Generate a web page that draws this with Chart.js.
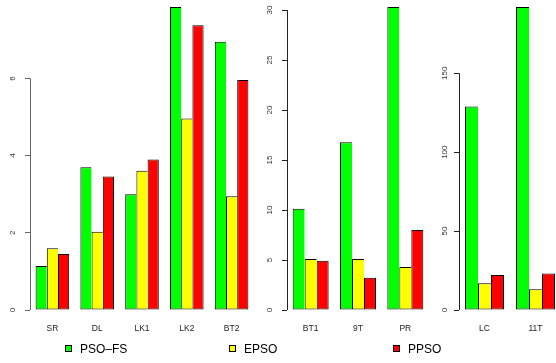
<!DOCTYPE html>
<html>
<head>
<meta charset="utf-8">
<script src="https://cdn.jsdelivr.net/npm/chart.js@4/dist/chart.umd.min.js"></script>
<style>
  html, body { margin: 0; padding: 0; background: #fff; overflow: hidden; }
  #wrap { position: relative; width: 556px; height: 363px; overflow: hidden; }
  #wrap canvas { position: absolute; left: 0; top: 0; }
  .leg { position: absolute; top: 342px; line-height: 14px; font: 12px "Liberation Sans", Arial, sans-serif; color: #000; }
  .box { position: absolute; top: 345px; width: 5px; height: 5px; border: 1px solid #000; }
</style>
</head>
<body>
<div id="wrap">
  <canvas id="left" width="580" height="363"></canvas>
  <canvas id="mid" width="580" height="363"></canvas>
  <canvas id="right" width="580" height="363"></canvas>

  <div class="box" style="left:65px;background:#00ff00"></div>
  <div class="leg" style="left:80px">PSO–FS</div>
  <div class="box" style="left:229px;background:#ffff00"></div>
  <div class="leg" style="left:244px">EPSO</div>
  <div class="box" style="left:393px;background:#ff0000"></div>
  <div class="leg" style="left:408px">PPSO</div>
</div>

<script>
/* data */

const seriesNames = ['PSO–FS', 'EPSO', 'PPSO']
const seriesColors = ['#00ff00', '#ffff00', '#ff0000']

const leftCats = ['SR', 'DL', 'LK1', 'LK2', 'BT2']
const leftPsoFs = [1.14, 3.70, 3.00, 7.85, 6.95]
const leftEpso = [1.60, 2.03, 3.61, 4.96, 2.95]
const leftPpso = [1.45, 3.46, 3.90, 7.38, 5.96]
const leftTicks = [0, 2, 4, 6]

const midCats = ['BT1', '9T', 'PR']
const midPsoFs = [10.13, 16.77, 30.3]
const midEpso = [5.10, 5.10, 4.30]
const midPpso = [4.93, 3.23, 8.00]
const midTicks = [0, 5, 10, 15, 20, 25, 30]

const rightCats = ['LC', '11T']
const rightPsoFs = [128.9, 192]
const rightEpso = [16.9, 13.1]
const rightPpso = [22.2, 23.2]
const rightTicks = [0, 50, 100, 150]

/* R style axis line: only from first to last tick */
const axisLine = {
  id: 'axisLine',
  afterDraw(chart, args, opts) {
    const y = chart.scales.y
    const t = y.ticks
    const ctx = chart.ctx
    const x = Math.round(chart.chartArea.left) + 0.5
    ctx.save()
    ctx.strokeStyle = opts.color
    ctx.lineWidth = 1
    ctx.beginPath()
    ctx.moveTo(x, y.getPixelForValue(t[0].value))
    ctx.lineTo(x, y.getPixelForValue(t[t.length - 1].value))
    ctx.stroke()
    ctx.restore()
  }
}

const tickFont = { family: "'Liberation Sans', Arial, sans-serif", size: 8.5 }

// neighbouring bars share one edge line, like R's rect()
const edges = [
  { top: 1, left: 1, bottom: 1, right: 0 },
  { top: 1, left: 1, bottom: 1, right: 0 },
  { top: 1, left: 1, bottom: 1, right: 1 }
]

function makePanel(id, cats, a, b, c, ticks, box) {
  const ctx = document.getElementById(id).getContext('2d')
  const top = Math.max(...a, ...b, ...c)
  return new Chart(ctx, {
    type: 'bar',
    data: {
      labels: cats,
      datasets: [a, b, c].map((d, i) => ({
        label: seriesNames[i],
        data: d,
        backgroundColor: seriesColors[i],
        borderColor: '#000',
        borderWidth: edges[i],
        borderSkipped: false,
        inflateAmount: 0,
        categoryPercentage: box.cat,
        barPercentage: 1
      }))
    },
    options: {
      responsive: false,
      animation: false,
      events: [],
      layout: { padding: { left: box.left - 30, right: 580 - box.right, top: 7, bottom: 363 - 310 - 30 } },
      plugins: {
        legend: { display: false },
        tooltip: { enabled: false },
        axisLine: { color: box.axis }
      },
      scales: {
        x: {
          grid: { display: false, drawTicks: false },
          border: { display: false },
          ticks: { font: tickFont, color: '#222', padding: 14, autoSkip: false, maxRotation: 0 },
          afterFit: s => { s.height = 30; s.paddingLeft = 0; s.paddingRight = 0 }
        },
        y: {
          min: 0,
          max: top,
          grid: { drawOnChartArea: false, drawTicks: true, tickLength: 5, color: box.axis },
          border: { display: false },
          ticks: { font: { ...tickFont, size: 8 }, color: '#333', minRotation: 90, maxRotation: 90, crossAlign: 'center', padding: box.pad },
          afterBuildTicks: s => { s.ticks = ticks.map(v => ({ value: v })) },
          afterFit: s => { s.width = 30; s.paddingTop = 0; s.paddingBottom = 0 }
        }
      }
    },
    plugins: [axisLine]
  })
}

makePanel('left', leftCats, leftPsoFs, leftEpso, leftPpso, leftTicks, { left: 30, right: 254, cat: 0.75, pad: 10, axis: '#666' })
makePanel('mid', midCats, midPsoFs, midEpso, midPpso, midTicks, { left: 287, right: 429, cat: 0.76, pad: 7.5, axis: '#222' })
makePanel('right', rightCats, rightPsoFs, rightEpso, rightPpso, rightTicks, { left: 459, right: 561, cat: 0.765, pad: 3, axis: '#222' })
</script>
</body>
</html>
